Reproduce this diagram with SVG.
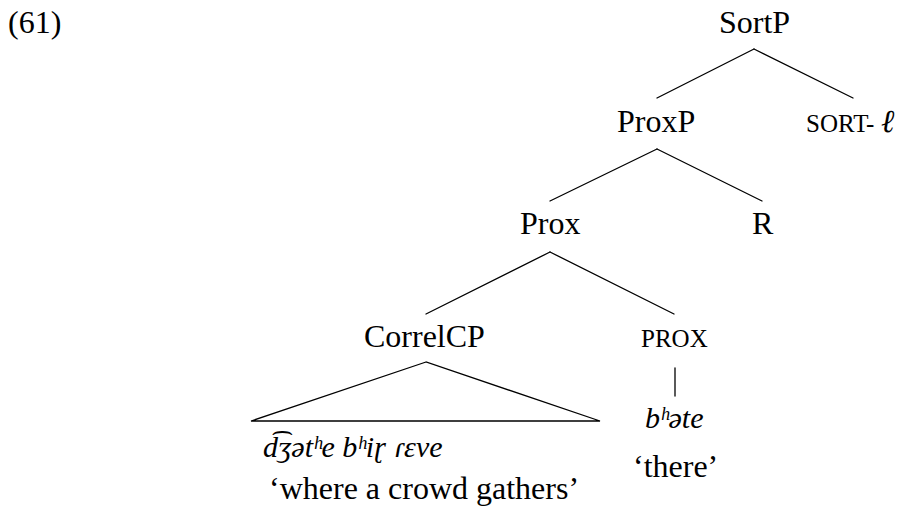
<svg xmlns="http://www.w3.org/2000/svg" width="902" height="514" viewBox="0 0 902 514">
  <style>
    .e { fill: none; stroke: #000; stroke-width: 1.3; stroke-linecap: round; }
  </style>
  <rect width="902" height="514" fill="#fff"/>
  <g id="label-61"><text font-family="Times New Roman" font-size="32" x="8" y="33">(61)</text></g>
  <g id="connectors">
    <line class="e" x1="754" y1="49" x2="657" y2="98"/>
    <line class="e" x1="754" y1="49" x2="853" y2="98"/>
    <line class="e" x1="657" y1="149" x2="550" y2="201"/>
    <line class="e" x1="657" y1="149" x2="762" y2="201"/>
    <line class="e" x1="550" y1="252" x2="426" y2="314"/>
    <line class="e" x1="550" y1="252" x2="674" y2="314"/>
    <polygon class="e" points="426,362 251,421 600,421"/>
    <line class="e" x1="675" y1="368" x2="675" y2="396"/>
  </g>
  <g id="node-sortp"><text font-family="Times New Roman" font-size="32" x="719" y="33">SortP</text></g>
  <g id="node-proxp"><text font-family="Times New Roman" font-size="32" x="617" y="132">ProxP</text></g>
  <g id="node-sort-l">
    <text font-family="Times New Roman" font-size="25" x="806" y="132">SORT-</text>
    <text font-family="Times New Roman" font-size="32" font-style="italic" x="881" y="132">ℓ</text>
  </g>
  <g id="node-prox"><text font-family="Times New Roman" font-size="32" x="520" y="234">Prox</text></g>
  <g id="node-r"><text font-family="Times New Roman" font-size="32" x="752" y="234">R</text></g>
  <g id="node-correlcp">
    <text font-family="Times New Roman" font-size="32" x="364" y="347">CorrelCP</text>
    <text font-family="Times New Roman" font-size="30" font-style="italic" x="263" y="457">d͡ʒətʰe bʰiɽ ɾɛve</text>
    <text font-family="Times New Roman" font-size="32" x="269" y="499">‘where a crowd gathers’</text>
  </g>
  <g id="node-prox-head">
    <text font-family="Times New Roman" font-size="25" x="641" y="347">PROX</text>
    <text font-family="Times New Roman" font-size="30" font-style="italic" x="645" y="428">bʰəte</text>
    <text font-family="Times New Roman" font-size="32" x="633" y="477">‘there’</text>
  </g>
</svg>
